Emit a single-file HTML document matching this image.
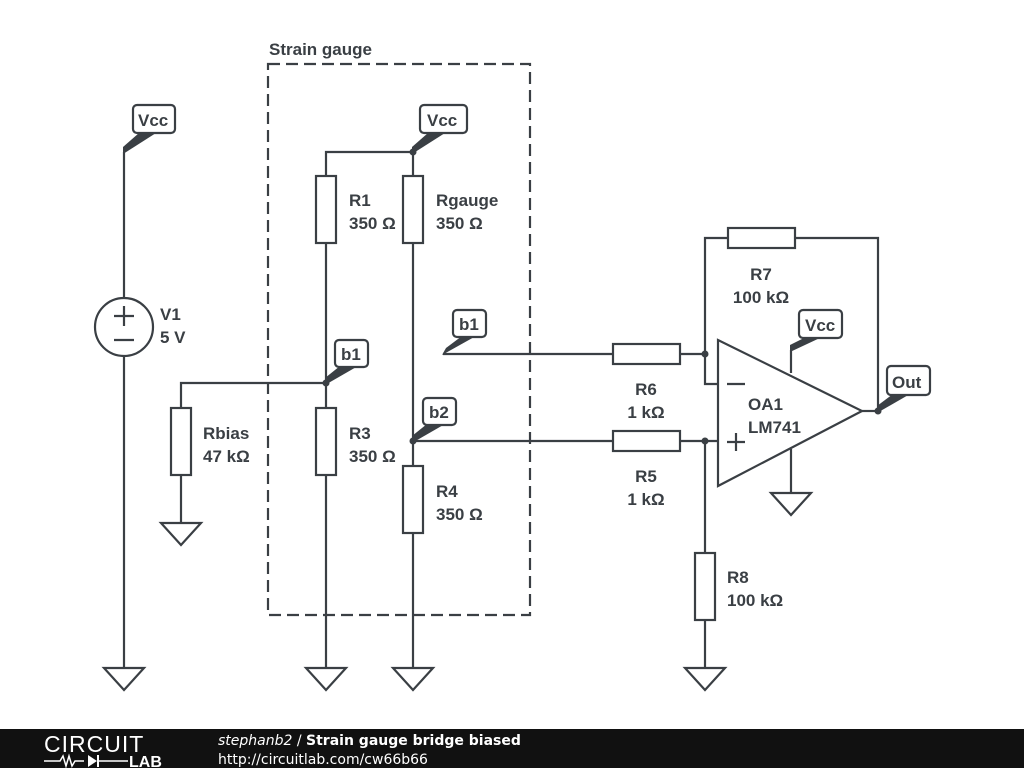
<!DOCTYPE html>
<html><head><style>body{margin:0;background:#fff}svg{display:block}</style></head><body>
<svg width="1024" height="768" xmlns="http://www.w3.org/2000/svg" font-family="'Liberation Sans',sans-serif" font-weight="bold" font-size="17" fill="#3a3f44">
<g stroke="#3a3f44" stroke-width="2.2" fill="none">
<rect x="268" y="64" width="262" height="551" stroke-dasharray="12,6"/>
<line x1="124" y1="152" x2="124" y2="298"/><line x1="124" y1="356" x2="124" y2="668"/>
<circle cx="124" cy="327" r="29"/>
<line x1="114" y1="316" x2="134" y2="316"/><line x1="124" y1="306" x2="124" y2="326"/><line x1="114" y1="340" x2="134" y2="340"/>
<polyline points="326,176 326,152 413,152 413,176"/>
<rect x="316" y="176" width="20" height="67"/><rect x="403" y="176" width="20" height="67"/>
<line x1="326" y1="243" x2="326" y2="408"/><rect x="316" y="408" width="20" height="67"/><line x1="326" y1="475" x2="326" y2="668"/>
<line x1="413" y1="243" x2="413" y2="466"/><rect x="403" y="466" width="20" height="67"/><line x1="413" y1="533" x2="413" y2="668"/>
<polyline points="326,383 181,383 181,408"/><rect x="171" y="408" width="20" height="67"/><line x1="181" y1="475" x2="181" y2="523"/>
<line x1="443" y1="354" x2="613" y2="354"/><rect x="613" y="344" width="67" height="20"/><line x1="680" y1="354" x2="705" y2="354"/>
<line x1="413" y1="441" x2="613" y2="441"/><rect x="613" y="431" width="67" height="20"/><line x1="680" y1="441" x2="718" y2="441"/>
<polyline points="705,354 705,238 728,238"/><rect x="728" y="228" width="67" height="20"/><polyline points="795,238 878,238 878,411"/>
<polyline points="705,354 705,384 718,384"/>
<polygon points="718,340 718,486 862,411"/>
<line x1="727" y1="384" x2="745" y2="384"/><line x1="727" y1="442" x2="745" y2="442"/><line x1="736" y1="433" x2="736" y2="451"/>
<line x1="791" y1="350" x2="791" y2="373"/><line x1="791" y1="449" x2="791" y2="493"/>
<line x1="862" y1="411" x2="878" y2="411"/>
<line x1="705" y1="441" x2="705" y2="553"/><rect x="695" y="553" width="20" height="67"/><line x1="705" y1="620" x2="705" y2="668"/>
<polygon points="104,668 144,668 124,690"/><polygon points="306,668 346,668 326,690"/><polygon points="393,668 433,668 413,690"/>
<polygon points="161,523 201,523 181,545"/><polygon points="685,668 725,668 705,690"/><polygon points="771,493 811,493 791,515"/>
<rect x="133" y="105" width="42" height="28" rx="4"/><rect x="420" y="105" width="47" height="28" rx="4"/>
<rect x="335" y="340" width="33" height="27" rx="4"/><rect x="423" y="398" width="33" height="27" rx="4"/>
<rect x="453" y="310" width="33" height="27" rx="4"/><rect x="799" y="310" width="43" height="28" rx="4"/>
<rect x="887" y="366" width="43" height="29" rx="4"/>
</g>
<g fill="#3a3f44">
<polygon points="123,154 123,147 139,133 156,133"/>
<polygon points="412,154 412,147 428,133 445,133"/>
<polygon points="325,385 325,378 340,366 358,366"/>
<polygon points="412,443 412,436 427,424 445,424"/>
<polygon points="442,355 446,348 462,336 476,336"/>
<polygon points="790,352 790,345 806,337 822,337"/>
<polygon points="877,413 877,406 893,394 910,394"/>
<circle cx="413" cy="152" r="3.5"/><circle cx="326" cy="383" r="3.5"/><circle cx="413" cy="441" r="3.5"/>
<circle cx="705" cy="354" r="3.5"/><circle cx="705" cy="441" r="3.5"/><circle cx="878" cy="411" r="3.5"/>
</g>
<text x="269" y="55">Strain gauge</text>
<text x="138" y="126">Vcc</text><text x="427" y="126">Vcc</text><text x="805" y="331">Vcc</text><text x="892" y="388">Out</text>
<text x="341" y="360">b1</text><text x="429" y="418">b2</text><text x="459" y="330">b1</text>
<text x="160" y="320">V1</text><text x="160" y="343">5 V</text>
<text x="349" y="206">R1</text><text x="349" y="229">350 Ω</text>
<text x="436" y="206">Rgauge</text><text x="436" y="229">350 Ω</text>
<text x="203" y="439">Rbias</text><text x="203" y="462">47 kΩ</text>
<text x="349" y="439">R3</text><text x="349" y="462">350 Ω</text>
<text x="436" y="497">R4</text><text x="436" y="520">350 Ω</text>
<text x="761" y="280" text-anchor="middle">R7</text><text x="761" y="303" text-anchor="middle">100 kΩ</text>
<text x="646" y="395" text-anchor="middle">R6</text><text x="646" y="418" text-anchor="middle">1 kΩ</text>
<text x="646" y="482" text-anchor="middle">R5</text><text x="646" y="505" text-anchor="middle">1 kΩ</text>
<text x="748" y="410">OA1</text><text x="748" y="433">LM741</text>
<text x="727" y="583">R8</text><text x="727" y="606">100 kΩ</text>
<rect x="0" y="729" width="1024" height="39" fill="#111"/>
<text x="44" y="752" font-size="23" font-weight="normal" fill="#fff" letter-spacing="1">CIRCUIT</text>
<polyline points="44,761 60,761 63,756 66,766 69,756 72,766 75,761 84,761" stroke="#fff" stroke-width="1.5" fill="none"/>
<polygon points="88,755 88,767 97,761" fill="#fff"/><line x1="98" y1="755" x2="98" y2="767" stroke="#fff" stroke-width="2"/>
<line x1="98" y1="761" x2="128" y2="761" stroke="#fff" stroke-width="1.5"/>
<text x="129" y="767" font-size="16" fill="#fff">LAB</text>
<text x="218" y="745" font-size="14" font-family="'DejaVu Sans',sans-serif" fill="#fff"><tspan font-style="italic" font-weight="normal">stephanb2</tspan><tspan font-weight="normal"> / </tspan>Strain gauge bridge biased</text>
<text x="218" y="764" font-size="14" font-family="'DejaVu Sans',sans-serif" font-weight="normal" fill="#fff">http://circuitlab.com/cw66b66</text>
</svg>
</body></html>
